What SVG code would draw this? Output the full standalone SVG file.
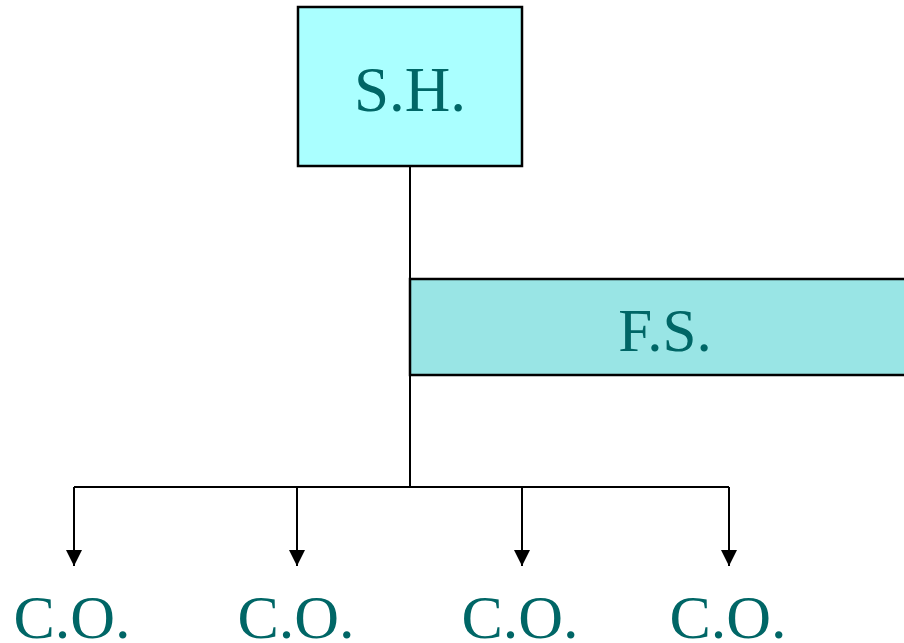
<svg xmlns="http://www.w3.org/2000/svg" width="904" height="643" viewBox="0 0 904 643">
<style>
.lbl{font-family:"Liberation Serif","Times New Roman",serif;fill:#006666;text-anchor:middle}
.box{stroke:#000;stroke-width:2.5}
.ln{stroke:#000;stroke-width:2;fill:none}
</style>
<defs>
<marker id="ah" viewBox="0 0 16 16" refX="16" refY="8" markerWidth="16" markerHeight="16" markerUnits="userSpaceOnUse" orient="auto">
<path d="M0,0 L16,8 L0,16 Z" fill="#000"/>
</marker>
</defs>
<rect width="904" height="643" fill="#fff"/>
<g id="connectors">
<path class="ln" d="M410,166 V487"/>
<path class="ln" d="M74,487 H729"/>
<path class="ln" d="M74,487 V566" marker-end="url(#ah)"/>
<path class="ln" d="M297,487 V566" marker-end="url(#ah)"/>
<path class="ln" d="M522,487 V566" marker-end="url(#ah)"/>
<path class="ln" d="M729,487 V566" marker-end="url(#ah)"/>
</g>
<g id="sh">
<rect class="box" x="298" y="7" width="224" height="159" fill="#AAFFFF"/>
<text class="lbl" x="410" y="111" font-size="63">S.H.</text>
</g>
<g id="fs">
<rect class="box" x="410" y="279" width="500" height="96" fill="#99E5E5"/>
<text class="lbl" x="665" y="351" font-size="61">F.S.</text>
</g>
<g id="co1"><text class="lbl" x="72" y="638" font-size="62">C.O.</text></g>
<g id="co2"><text class="lbl" x="296" y="638" font-size="62">C.O.</text></g>
<g id="co3"><text class="lbl" x="520" y="638" font-size="62">C.O.</text></g>
<g id="co4"><text class="lbl" x="728" y="638" font-size="62">C.O.</text></g>
</svg>
